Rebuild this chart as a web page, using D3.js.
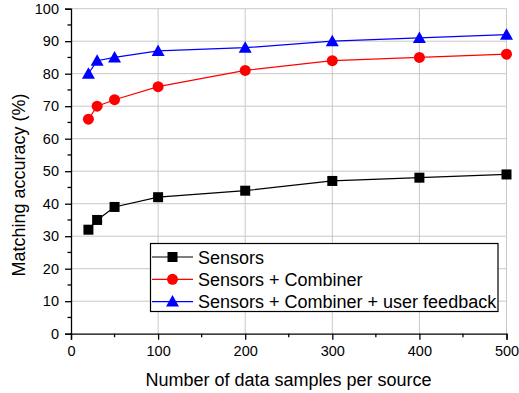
<!DOCTYPE html>
<html>
<head>
<meta charset="utf-8">
<script src="https://cdn.jsdelivr.net/npm/d3@7"></script>
<style>
  body { margin: 0; background: #fff; }
  text { font-family: "Liberation Sans", Arial, sans-serif; fill: #000; }
</style>
</head>
<body>
<svg id="chart" width="519" height="393"></svg>
<script>
var samples = [20, 30, 50, 100, 200, 300, 400, 500];
var sensors = [32, 35, 39, 42, 44, 47, 48, 49];
var combiner = [66, 70, 72, 76, 81, 84, 85, 86];
var feedback = [80, 84, 85, 87, 88, 90, 91, 92];
var xTicks = [0, 100, 200, 300, 400, 500];
var yTicks = [0, 10, 20, 30, 40, 50, 60, 70, 80, 90, 100];

var series = [
  {name: "Sensors", values: sensors, color: "#000", marker: "square"},
  {name: "Sensors + Combiner", values: combiner, color: "#ff0000", marker: "circle"},
  {name: "Sensors + Combiner + user feedback", values: feedback, color: "#0000ff", marker: "triangle"}
];

var svg = d3.select("#chart");
var plotL = 71, plotR = 506.5, plotT = 8.7, plotB = 333.7;

var x = d3.scaleLinear().domain([0, 500]).range([plotL, plotR]);
var y = d3.scaleLinear().domain([0, 100]).range([plotB, plotT]);

// grid
svg.append("g").selectAll("line").data(xTicks.slice(1)).enter().append("line")
  .attr("x1", function(d){ return x(d) }).attr("x2", function(d){ return x(d) })
  .attr("y1", plotB).attr("y2", plotT)
  .attr("stroke", "#c8c8c8").attr("stroke-width", 1);
svg.append("g").selectAll("line").data(yTicks.slice(1)).enter().append("line")
  .attr("x1", plotL).attr("x2", plotR)
  .attr("y1", function(d){ return y(d) }).attr("y2", function(d){ return y(d) })
  .attr("stroke", "#c8c8c8").attr("stroke-width", 1);

// axes
var xAxis = d3.axisBottom(x).tickValues(xTicks).tickSize(6).tickPadding(6);
var yAxis = d3.axisLeft(y).tickValues(yTicks).tickSize(6).tickPadding(6);

var gx = svg.append("g").attr("transform", "translate(0," + plotB + ")").call(xAxis);
var gy = svg.append("g").attr("transform", "translate(" + plotL + ",0)").call(yAxis);
[gx, gy].forEach(function(g){
  g.select(".domain").attr("stroke", "#000").attr("stroke-width", 1.3);
  g.selectAll(".tick line").attr("stroke", "#000").attr("stroke-width", 1.3);
  g.selectAll(".tick text").style("font-size", "14.5px").style("font-family", "Liberation Sans, Arial, sans-serif").attr("fill", "#000");
});

// minor ticks
svg.append("g").selectAll("line").data(d3.range(50, 500, 100)).enter().append("line")
  .attr("x1", function(d){ return x(d) }).attr("x2", function(d){ return x(d) })
  .attr("y1", plotB).attr("y2", plotB + 3.5)
  .attr("stroke", "#000").attr("stroke-width", 1.3);
svg.append("g").selectAll("line").data(d3.range(5, 100, 10)).enter().append("line")
  .attr("x1", plotL - 3.5).attr("x2", plotL)
  .attr("y1", function(d){ return y(d) }).attr("y2", function(d){ return y(d) })
  .attr("stroke", "#000").attr("stroke-width", 1.3);

// axis titles
svg.append("text").attr("x", 288.5).attr("y", 386)
  .attr("text-anchor", "middle").style("font-size", "18px")
  .text("Number of data samples per source");
svg.append("text").attr("transform", "translate(25,185) rotate(-90)")
  .attr("text-anchor", "middle").style("font-size", "18px")
  .text("Matching accuracy (%)");

function drawMarker(g, type, cx, cy, color) {
  if (type === "square") {
    g.append("rect").attr("x", cx - 5).attr("y", cy - 5).attr("width", 10).attr("height", 10).attr("fill", color);
  } else if (type === "circle") {
    g.append("circle").attr("cx", cx).attr("cy", cy).attr("r", 5.5).attr("fill", color);
  } else {
    g.append("path").attr("d", "M" + cx + "," + (cy - 6.5) + "L" + (cx + 6.5) + "," + (cy + 5) + "L" + (cx - 6.5) + "," + (cy + 5) + "Z").attr("fill", color);
  }
}

var line = d3.line().x(function(d){ return x(d[0]) }).y(function(d){ return y(d[1]) });

series.forEach(function(s){
  var pts = samples.map(function(v, i){ return [v, s.values[i]] });
  var g = svg.append("g");
  g.append("path").datum(pts).attr("d", line).attr("fill", "none").attr("stroke", s.color).attr("stroke-width", 1.2);
  pts.forEach(function(p){ drawMarker(g, s.marker, x(p[0]), y(p[1]), s.color) });
});

// legend
var lg = svg.append("g");
lg.append("rect").attr("x", 150.5).attr("y", 243.5).attr("width", 347.5).attr("height", 68)
  .attr("fill", "#fff").attr("stroke", "#000").attr("stroke-width", 1.2);
series.forEach(function(s, i){
  var ly = 257 + i * 22.3;
  lg.append("line").attr("x1", 152).attr("x2", 193).attr("y1", ly).attr("y2", ly).attr("stroke", s.color).attr("stroke-width", 1.2);
  drawMarker(lg, s.marker, 172.5, ly, s.color);
  lg.append("text").attr("x", 198).attr("y", ly + 6.5).style("font-size", "18px").text(s.name);
});
</script>
</body>
</html>
